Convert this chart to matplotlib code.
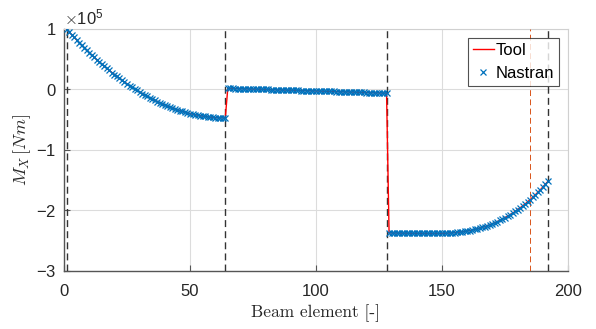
import numpy as np
import matplotlib
matplotlib.use("Agg")
import matplotlib.pyplot as plt
from matplotlib.ticker import ScalarFormatter

plt.rcParams['font.family'] = ['Liberation Sans', 'DejaVu Sans']
plt.rcParams['mathtext.fontset'] = 'cm'
plt.rcParams['axes.unicode_minus'] = False

# Bending moment per beam element, in units of 1e5 Nm
moment_part1 = [
    1.000, 0.954, 0.908, 0.863, 0.819, 0.776, 0.733, 0.691, 0.650, 0.610,
    0.570, 0.531, 0.493, 0.456, 0.419, 0.383, 0.348, 0.314, 0.280, 0.247,
    0.215, 0.183, 0.153, 0.123, 0.093, 0.065, 0.037, 0.010, -0.016, -0.042,
    -0.067, -0.091, -0.114, -0.137, -0.159, -0.180, -0.200, -0.220, -0.239, -0.257,
    -0.274, -0.291, -0.307, -0.322, -0.336, -0.350, -0.363, -0.375, -0.387, -0.397,
    -0.407, -0.417, -0.425, -0.433, -0.440, -0.446, -0.452, -0.457, -0.461, -0.464,
    -0.467, -0.469, -0.470, -0.470,
]
moment_part2 = [
    0.020, 0.019, 0.017, 0.016, 0.015, 0.014, 0.012, 0.011, 0.010, 0.009,
    0.007, 0.006, 0.005, 0.003, 0.002, 0.001, 0.000, -0.002, -0.003, -0.004,
    -0.005, -0.007, -0.008, -0.009, -0.010, -0.012, -0.013, -0.014, -0.016, -0.017,
    -0.018, -0.019, -0.021, -0.022, -0.023, -0.024, -0.026, -0.027, -0.028, -0.030,
    -0.031, -0.032, -0.033, -0.035, -0.036, -0.037, -0.038, -0.040, -0.041, -0.042,
    -0.043, -0.045, -0.046, -0.047, -0.049, -0.050, -0.051, -0.052, -0.054, -0.055,
    -0.056, -0.057, -0.059, -0.060,
]
moment_part3 = [
    -2.370, -2.371, -2.372, -2.372, -2.373, -2.374, -2.374, -2.375, -2.376, -2.376,
    -2.377, -2.378, -2.378, -2.379, -2.379, -2.380, -2.380, -2.380, -2.380, -2.379,
    -2.379, -2.378, -2.376, -2.375, -2.372, -2.369, -2.366, -2.362, -2.357, -2.352,
    -2.346, -2.339, -2.331, -2.322, -2.313, -2.303, -2.291, -2.279, -2.266, -2.251,
    -2.236, -2.219, -2.202, -2.183, -2.163, -2.142, -2.119, -2.095, -2.070, -2.044,
    -2.016, -1.987, -1.956, -1.924, -1.891, -1.856, -1.819, -1.781, -1.742, -1.701,
    -1.658, -1.613, -1.567, -1.520,
]
tool_moment = moment_part1 + moment_part2 + moment_part3
nastran_moment = moment_part1 + moment_part2 + moment_part3
elements = list(range(1, len(tool_moment) + 1))

boundary_elements = [1, 64, 128, 192]
highlight_element = 185

x_ticks = [0, 50, 100, 150, 200]
y_ticks = [-3, -2, -1, 0, 1]

scale = 1e5
fig = plt.figure(figsize=(5.96, 3.29), dpi=100)
ax = fig.add_axes([0.1074, 0.1763, 0.8456, 0.7356])

grid_c = '#dcdcdc'
for xb in boundary_elements:
    ax.axvline(xb, color='#333333', linestyle=(0, (5, 3)), linewidth=1.0, zorder=3)
ax.axvline(highlight_element, color='#D95319', linestyle=(0, (6, 3.5)), linewidth=0.7, zorder=3)

ax.plot(elements, np.array(tool_moment) * scale, color='#ff0000', linewidth=1.0,
        label='Tool', zorder=4)
ax.plot(elements, np.array(nastran_moment) * scale, linestyle='none', marker='x',
        markersize=3.8, markeredgewidth=0.9, color='#0072BD', label='Nastran', zorder=5)

ax.set_xlim(0, 200)
ax.set_ylim(-3 * scale, 1 * scale)
ax.set_xticks(x_ticks)
ax.set_yticks(np.array(y_ticks) * scale)

fmt = ScalarFormatter(useMathText=True)
fmt.set_powerlimits((0, 0))
ax.yaxis.set_major_formatter(fmt)
ax.yaxis.get_offset_text().set_fontsize(12)
ax.yaxis.get_offset_text().set_color('#262626')

ax.grid(True, color=grid_c, linewidth=0.8)
ax.set_axisbelow(True)
for side in ['left', 'bottom']:
    ax.spines[side].set_color('#555555')
    ax.spines[side].set_linewidth(1.0)
for side in ['top', 'right']:
    ax.spines[side].set_color('#d0d0d0')
    ax.spines[side].set_linewidth(0.8)
ax.tick_params(direction='in', length=4, width=0.8, color='#555555',
               labelsize=12, labelcolor='#262626')
ax.tick_params(axis='x', pad=9.5)
ax.tick_params(axis='y', pad=5.5)

ax.set_xlabel('Beam element [-]', fontfamily='cmr10', fontsize=12.5, color='#262626', labelpad=4)
ax.set_ylabel(r'$M_X\,[Nm]$', fontsize=13, color='#262626', labelpad=2)

leg = ax.legend(loc='upper right', fontsize=12, frameon=True, fancybox=False,
                edgecolor='#262626', handlelength=1.25, handletextpad=0.1,
                borderaxespad=0.55, borderpad=0.3, labelspacing=0.45)
leg.get_frame().set_linewidth(0.8)

fig.savefig('out.png', dpi=100)
